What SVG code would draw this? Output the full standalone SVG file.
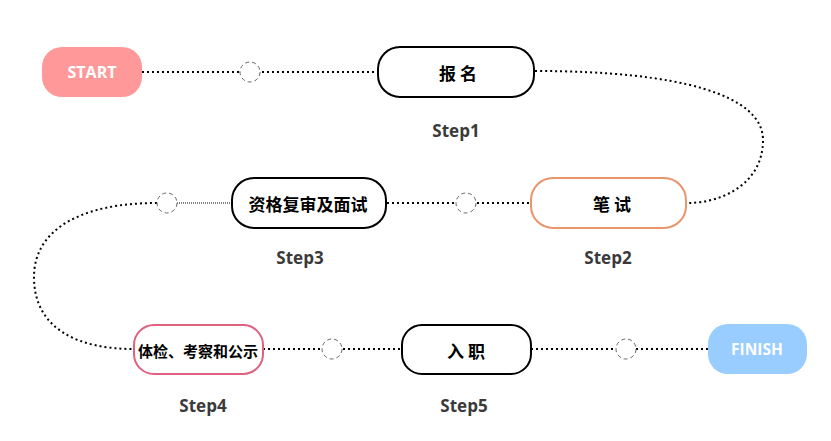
<svg xmlns="http://www.w3.org/2000/svg" width="831" height="441" viewBox="0 0 831 441">
<style>
.box{fill:#fff;stroke:#000;stroke-width:2}
.dot{fill:none;stroke:#000;stroke-width:2;stroke-dasharray:2 3}
.thin{fill:none;stroke:#000;stroke-width:1;stroke-dasharray:1 1}
.hole{fill:#fff;stroke:#666;stroke-width:1;stroke-dasharray:4 3}
.cn{font-family:"Noto Sans CJK SC",sans-serif;font-weight:bold;font-size:17px;fill:#000;text-anchor:middle;dominant-baseline:central}
.en{font-family:"Open Sans","Liberation Sans",sans-serif;font-weight:bold;font-size:16px;fill:#fff;text-anchor:middle;dominant-baseline:central}
.step{font-family:"Open Sans","Liberation Sans",sans-serif;font-weight:bold;font-size:17px;fill:#3a3a3a;text-anchor:middle;dominant-baseline:central}
</style>
<rect width="831" height="441" fill="#fff"/>
<g id="connectors">
<line class="dot" x1="142" y1="72" x2="377" y2="72"/>
<path class="dot" d="M535,71 C680,71 763,95 763,140 C763,185 720,203 688,203"/>
<line class="dot" x1="387" y1="203" x2="530" y2="203"/>
<line class="thin" x1="177" y1="203" x2="231" y2="203"/>
<path class="dot" d="M157,203 C80,203 34,230 34,277 C34,330 80,349 133,349"/>
<line class="dot" x1="263" y1="349" x2="401" y2="349"/>
<line class="dot" x1="531" y1="349" x2="708" y2="349"/>
<circle class="hole" cx="250" cy="72" r="10"/>
<circle class="hole" cx="466" cy="203" r="10"/>
<circle class="hole" cx="167" cy="203" r="10"/>
<circle class="hole" cx="332" cy="349" r="10"/>
<circle class="hole" cx="626" cy="349" r="10"/>
</g>
<g id="start"><rect x="42" y="47" width="100" height="50" rx="20" fill="#FF9999"/><text class="en" x="92" y="72">START</text></g>
<g id="step1"><rect class="box" x="378" y="47" width="156" height="50" rx="22"/><text class="cn" x="458" y="72">报 名</text><text class="step" x="456" y="130">Step1</text></g>
<g id="step2"><rect class="box" x="531" y="178" width="155" height="50" rx="22" style="stroke:#E8956B"/><text class="cn" x="612" y="203">笔 试</text><text class="step" x="608" y="257">Step2</text></g>
<g id="step3"><rect class="box" x="232" y="178" width="154" height="50" rx="22"/><text class="cn" x="308" y="203">资格复审及面试</text><text class="step" x="300" y="257">Step3</text></g>
<g id="step4"><rect class="box" x="134" y="325" width="129" height="49" rx="20" style="stroke:#E06080"/><text class="cn" x="198" y="350" style="font-size:15px">体检、考察和公示</text><text class="step" x="203" y="405">Step4</text></g>
<g id="step5"><rect class="box" x="402" y="325" width="129" height="49" rx="20"/><text class="cn" x="466" y="350">入 职</text><text class="step" x="464" y="405">Step5</text></g>
<g id="finish"><rect x="708" y="324" width="99" height="50" rx="20" fill="#99CCFF"/><text class="en" x="757" y="349" style="font-size:15.5px">FINISH</text></g>
</svg>
